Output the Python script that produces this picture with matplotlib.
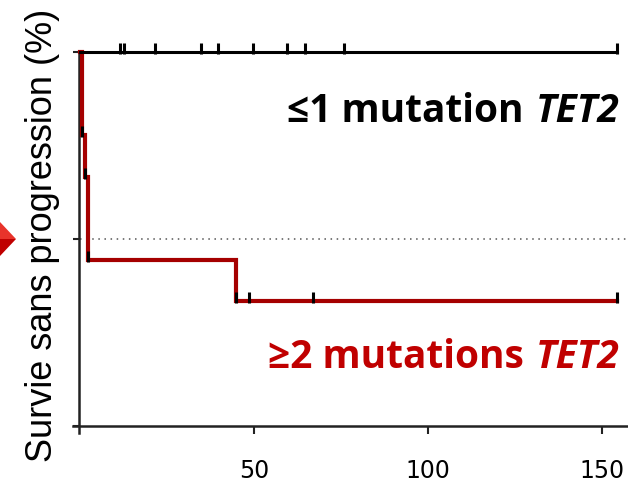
import matplotlib
matplotlib.use("Agg")
import matplotlib.pyplot as plt
from matplotlib.patches import Polygon
from matplotlib.path import Path

plt.rcParams['font.family'] = ['Open Sans', 'DejaVu Sans']

# Kaplan-Meier: <=1 TET2 mutation (no events, censored follow-up times)
low_censor_t = [11.5, 12.6, 21.6, 34.9, 39.7, 49.8, 59.6, 64.7, 75.9, 154.2]
low_end = 154.2

# Kaplan-Meier: >=2 TET2 mutations (event times and survival after each step)
high_event_t = [0.6, 1.5, 2.4, 44.8]
high_surv = [77.8, 66.7, 44.4, 33.3]
high_end = 154.2
high_censor_t = [0.6, 1.5, 2.4, 44.8, 48.7, 66.9, 154.2]

xticks = [50, 100, 150]
xtick_labels = ["50", "100", "150"]
yticks = [0, 50, 100]

fig = plt.figure(figsize=(6.28, 4.83), dpi=100)
ax = fig.add_axes([0, 0, 1, 1])
ax.set_xlim(-23.0, 157.5)
ax.set_ylim(-15.24, 113.9)
ax.patch.set_alpha(0)

for s in ("top", "right"):
    ax.spines[s].set_visible(False)
ax.spines["left"].set_position(("data", -0.3))
ax.spines["left"].set_bounds(-1.9, 100)
ax.spines["bottom"].set_position(("data", 0))
ax.spines["bottom"].set_bounds(-2.0, 157.5)
for s in ("left", "bottom"):
    ax.spines[s].set_linewidth(1.8)
    ax.spines[s].set_color("#222222")

ax.set_xticks(xticks)
ax.set_xticklabels(xtick_labels, family=["DejaVu Sans"])
ax.set_yticks(yticks)
ax.set_yticklabels([])
ax.tick_params(axis="x", direction="out", length=5.8, width=1.5, color="#222222",
               labelsize=17, pad=18)
ax.tick_params(axis="y", direction="out", length=4.3, width=1.5, color="#222222")

# median reference line
ax.plot([0, 157.5], [50, 50], color="#555555", lw=1.1, linestyle=(0, (1, 3)),
        zorder=1)

# step curves
hx = [0] + high_event_t + [high_end]
hy = [100] + high_surv + [high_surv[-1]]
ax.step(hx, hy, where="post", color="#A50000", lw=3.0, zorder=3,
        solid_joinstyle="miter")
ax.plot([0, low_end], [100, 100], color="black", lw=2.2, zorder=4)

# censor marks (short upward ticks)
tick_marker = Path([(0, -0.2), (0, 1.0)], [Path.MOVETO, Path.LINETO])


def surv_at(t):
    s = 100
    for et, sv in zip(high_event_t, high_surv):
        if t >= et:
            s = sv
    return s


ax.plot(low_censor_t, [100] * len(low_censor_t), linestyle="none",
        marker=tick_marker, ms=13, mew=2.2, mec="black", zorder=5)
ax.plot(high_censor_t, [surv_at(t) for t in high_censor_t], linestyle="none",
        marker=tick_marker, ms=13, mew=2.2, mec="black", zorder=5)

# y-axis title
ax.set_ylabel("Survie sans progression (%)", fontsize=26, va="center",
              family=["Liberation Sans", "DejaVu Sans"])
ax.yaxis.set_label_coords(0.068, 0.513)

# group labels
t1 = ax.text(155.2, 81.4, "TET2", fontsize=28, fontweight="bold",
             fontstyle="italic", color="black", ha="right", va="baseline")
ax.annotate("\u22641 mutation", xy=(0, 0), xycoords=t1, xytext=(-9, 0),
            textcoords="offset points", fontsize=28, fontweight="bold",
            color="black", ha="right", va="bottom")
t2 = ax.text(155.2, 15.5, "TET2", fontsize=28, fontweight="bold",
             fontstyle="italic", color="#C00000", ha="right", va="baseline")
ax.annotate("\u22652 mutations", xy=(0, 0), xycoords=t2, xytext=(-9, 0),
            textcoords="offset points", fontsize=28, fontweight="bold",
            color="#C00000", ha="right", va="bottom")

# arrow marker at the left edge
H = 4.83
up = Polygon([(0, (H * 100 - 222) / 100), (0.16, (H * 100 - 239) / 100),
              (0, (H * 100 - 239) / 100)], closed=True,
             transform=fig.dpi_scale_trans, facecolor="#E8332B", edgecolor="none")
dn = Polygon([(0, (H * 100 - 239) / 100), (0.16, (H * 100 - 239) / 100),
              (0, (H * 100 - 256) / 100)], closed=True,
             transform=fig.dpi_scale_trans, facecolor="#C00000", edgecolor="none")
fig.patches.extend([up, dn])

fig.savefig("out.png", dpi=100)
